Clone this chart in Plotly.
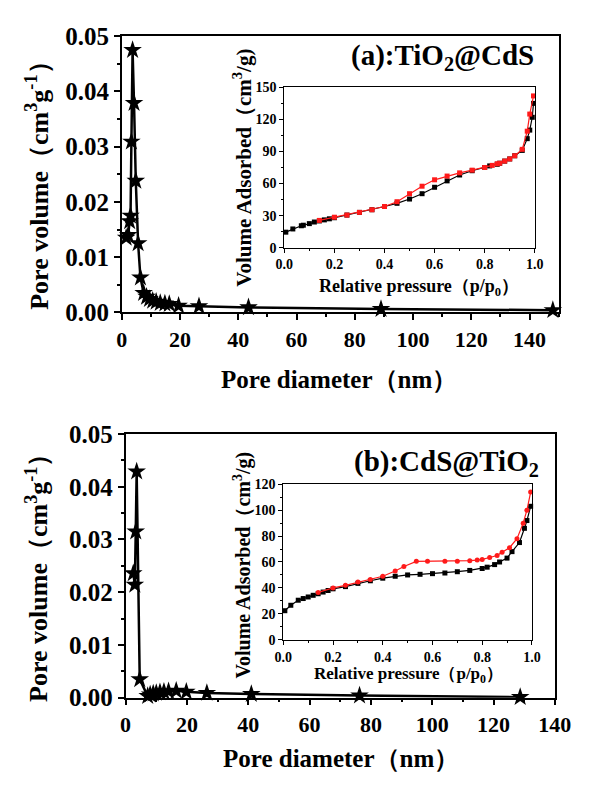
import plotly.graph_objects as go

# ---- Pore size distribution, (a) TiO2@CdS ----
diam_a = [1.5, 2.2, 2.7, 3.0, 3.3, 3.7, 4.2, 4.8, 5.6, 6.4, 7.5, 8.5, 9.5, 10.6,
          11.8, 13.2, 14.8, 16.3, 19.5, 26.5, 43.5, 89.0, 148.0]
vol_a = [0.0135, 0.0140, 0.0165, 0.0175, 0.0309, 0.0475, 0.0379, 0.0238, 0.0125,
         0.0063, 0.0035, 0.0028, 0.0024, 0.0021, 0.0019, 0.0017, 0.0016, 0.0015,
         0.0012, 0.0011, 0.0009, 0.0006, 0.0004]

# ---- Pore size distribution, (b) CdS@TiO2 ----
diam_b = [2.5, 3.0, 3.3, 3.6, 4.6, 7.2, 8.0, 9.0, 10.0, 11.2, 12.5, 14.0, 16.5,
          19.8, 26.5, 41.0, 76.3, 128.7]
vol_b = [0.0236, 0.0214, 0.0315, 0.0429, 0.0035, 0.0003, 0.0006, 0.0008, 0.0009,
         0.0010, 0.0011, 0.0012, 0.0013, 0.0011, 0.0009, 0.0007, 0.0004, 0.0001]

# ---- N2 isotherms, (a) ----
p_ads_a = [0.006, 0.034, 0.068, 0.076, 0.10, 0.12, 0.14, 0.16, 0.18, 0.20, 0.25, 0.30,
           0.35, 0.40, 0.45, 0.50, 0.55, 0.60, 0.65, 0.70, 0.75, 0.80, 0.82, 0.85,
           0.86, 0.88, 0.90, 0.92, 0.95, 0.97, 0.98, 0.99, 0.995]
v_ads_a = [14.5, 17.5, 20.5, 21.0, 22.5, 24.0, 25.0, 26.0, 27.0, 28.0, 30.5, 33.0,
           35.5, 38.5, 41.5, 45.5, 50.5, 56.5, 62.5, 68.0, 72.0, 75.0, 76.5, 78.0,
           79.0, 81.0, 83.0, 86.0, 91.0, 102.0, 110.0, 122.0, 135.0]
p_des_a = [0.14, 0.20, 0.25, 0.30, 0.35, 0.40, 0.45, 0.50, 0.55, 0.60, 0.65, 0.70,
           0.75, 0.80, 0.83, 0.85, 0.86, 0.88, 0.90, 0.92, 0.95, 0.97, 0.98, 0.995]
v_des_a = [25.5, 28.5, 30.5, 33.0, 35.5, 38.5, 43.0, 50.5, 57.5, 63.5, 67.0, 70.0,
           72.5, 75.0, 77.0, 78.5, 79.0, 81.0, 83.0, 86.0, 92.0, 109.0, 125.0, 142.0]

# ---- N2 isotherms, (b) ----
p_ads_b = [0.006, 0.03, 0.06, 0.08, 0.10, 0.12, 0.14, 0.16, 0.18, 0.20, 0.25, 0.30,
           0.35, 0.40, 0.45, 0.50, 0.55, 0.60, 0.65, 0.70, 0.75, 0.80, 0.82, 0.85,
           0.87, 0.90, 0.92, 0.95, 0.97, 0.98, 0.995]
v_ads_b = [22.4, 26.6, 30.5, 31.8, 33.0, 34.3, 35.5, 36.8, 38.0, 39.3, 41.0, 43.5,
           45.5, 47.5, 49.0, 50.0, 50.5, 51.0, 51.5, 52.5, 53.5, 55.0, 56.0, 58.0,
           60.0, 63.0, 68.0, 75.0, 86.0, 92.0, 103.0]
p_des_b = [0.14, 0.20, 0.25, 0.30, 0.35, 0.40, 0.45, 0.485, 0.535, 0.58, 0.65, 0.70,
           0.75, 0.78, 0.80, 0.83, 0.86, 0.88, 0.91, 0.94, 0.965, 0.98, 0.995]
v_des_b = [36.5, 40.0, 42.0, 44.5, 46.5, 49.0, 53.0, 56.5, 60.5, 60.5, 60.5, 60.5,
           61.0, 61.5, 62.0, 63.5, 65.0, 67.5, 71.0, 78.0, 90.0, 100.0, 114.0]

W, H = 590, 787
SERIF = "Liberation Serif"
RED = "#ff1a1a"


def px_x(x):
    return x / W


def px_y(y):
    return 1 - y / H


def axis(domain, rng, dtick, size, fmt=None, minor_dtick=None, anchor=None, lw=1.5):
    big = size > 16
    d = dict(
        domain=domain, range=rng, dtick=dtick, tick0=0, showline=True, linecolor="black",
        linewidth=lw, mirror=True, ticks="outside", ticklen=6 if big else 4,
        tickwidth=lw, tickcolor="black", showgrid=False, zeroline=False,
        tickfont=dict(family=SERIF, size=size, color="black", weight="bold"),
        anchor=anchor,
    )
    if fmt:
        d["tickformat"] = fmt
    if minor_dtick:
        d["minor"] = dict(ticks="outside", dtick=minor_dtick, tick0=0,
                          ticklen=3 if big else 2, tickwidth=lw, tickcolor="black")
    return d


fig = go.Figure()

star = dict(symbol="star", size=14, color="black")
fig.add_trace(go.Scatter(x=diam_a, y=vol_a, mode="lines+markers", marker=star,
                         line=dict(color="black", width=2.5), cliponaxis=False,
                         xaxis="x", yaxis="y"))
fig.add_trace(go.Scatter(x=diam_b, y=vol_b, mode="lines+markers", marker=star,
                         line=dict(color="black", width=2.5), cliponaxis=False,
                         xaxis="x2", yaxis="y2"))

# isotherms in the insets
fig.add_trace(go.Scatter(x=p_ads_a, y=v_ads_a, mode="lines+markers",
                         marker=dict(symbol="square", size=5, color="black"),
                         line=dict(color="black", width=1.2), cliponaxis=False,
                         xaxis="x3", yaxis="y3"))
fig.add_trace(go.Scatter(x=p_des_a, y=v_des_a, mode="lines+markers",
                         marker=dict(symbol="square", size=5, color=RED),
                         line=dict(color=RED, width=1.2), cliponaxis=False,
                         xaxis="x3", yaxis="y3"))
fig.add_trace(go.Scatter(x=p_ads_b, y=v_ads_b, mode="lines+markers",
                         marker=dict(symbol="square", size=5, color="black"),
                         line=dict(color="black", width=1.2), cliponaxis=False,
                         xaxis="x4", yaxis="y4"))
fig.add_trace(go.Scatter(x=p_des_b, y=v_des_b, mode="lines+markers",
                         marker=dict(symbol="circle", size=5, color=RED),
                         line=dict(color=RED, width=1.2), cliponaxis=False,
                         xaxis="x4", yaxis="y4"))

fig.update_layout(
    width=W, height=H, margin=dict(l=0, r=0, t=0, b=0),
    paper_bgcolor="white", plot_bgcolor="rgba(0,0,0,0)", showlegend=False,
    xaxis=axis([px_x(118), px_x(575)], [0, 150], 20, 22, minor_dtick=10, anchor="y"),
    yaxis=axis([px_y(310), px_y(24)], [0, 0.05], 0.01, 25, fmt=".2f", minor_dtick=0.005, anchor="x"),
    xaxis2=axis([px_x(122), px_x(571)], [0, 140], 20, 22, minor_dtick=10, anchor="y2"),
    yaxis2=axis([px_y(709), px_y(436)], [0, 0.05], 0.01, 25, fmt=".2f", minor_dtick=0.005, anchor="x2"),
    xaxis3=axis([px_x(288), px_x(550)], [0, 1.0], 0.2, 14, fmt=".1f", minor_dtick=0.1, anchor="y3", lw=1),
    yaxis3=axis([px_y(243), px_y(77)], [0, 150], 30, 14, minor_dtick=15, anchor="x3", lw=1),
    xaxis4=axis([px_x(287), px_x(547)], [0, 1.0], 0.2, 14, fmt=".1f", minor_dtick=0.1, anchor="y4", lw=1),
    yaxis4=axis([px_y(649), px_y(488)], [0, 120], 20, 14, minor_dtick=10, anchor="x4", lw=1),
)

# white backing behind the insets
for x0, x1, y0, y1 in [(288, 550, 77, 243), (287, 547, 488, 649)]:
    fig.add_shape(type="rect", xref="paper", yref="paper", layer="below",
                  x0=px_x(x0), x1=px_x(x1), y0=px_y(y1), y1=px_y(y0),
                  fillcolor="white", line=dict(width=0))


def label(text, x, y, size, angle=0):
    fig.add_annotation(text=text, x=px_x(x), y=px_y(y), xref="paper", yref="paper",
                       showarrow=False, textangle=angle, xanchor="center", yanchor="middle",
                       font=dict(family=SERIF, size=size, color="black", weight="bold"))


label("Pore volume（cm<sup>3</sup>g<sup>-1</sup>）", 29, 172, 26, -90)
label("Pore volume（cm<sup>3</sup>g<sup>-1</sup>）", 29, 578, 26, -90)
label("Pore diameter（nm）", 345, 380, 25)
label("Pore diameter（nm）", 347, 772, 25)
label("(a):TiO<sub>2</sub>@CdS", 454, 46, 29)
label("(b):CdS@TiO<sub>2</sub>", 458, 466, 29)
label("Volume Adsorbed（cm<sup>3</sup>/g)", 244, 160, 21, -90)
label("Relative pressure（p/p<sub>0</sub>）", 429, 284, 18)
label("Volume Adsorbed（cm<sup>3</sup>/g)", 244, 572, 20, -90)
label("Relative pressure（p/p<sub>0</sub>）", 418, 686, 17)

fig.write_html("out.html")
